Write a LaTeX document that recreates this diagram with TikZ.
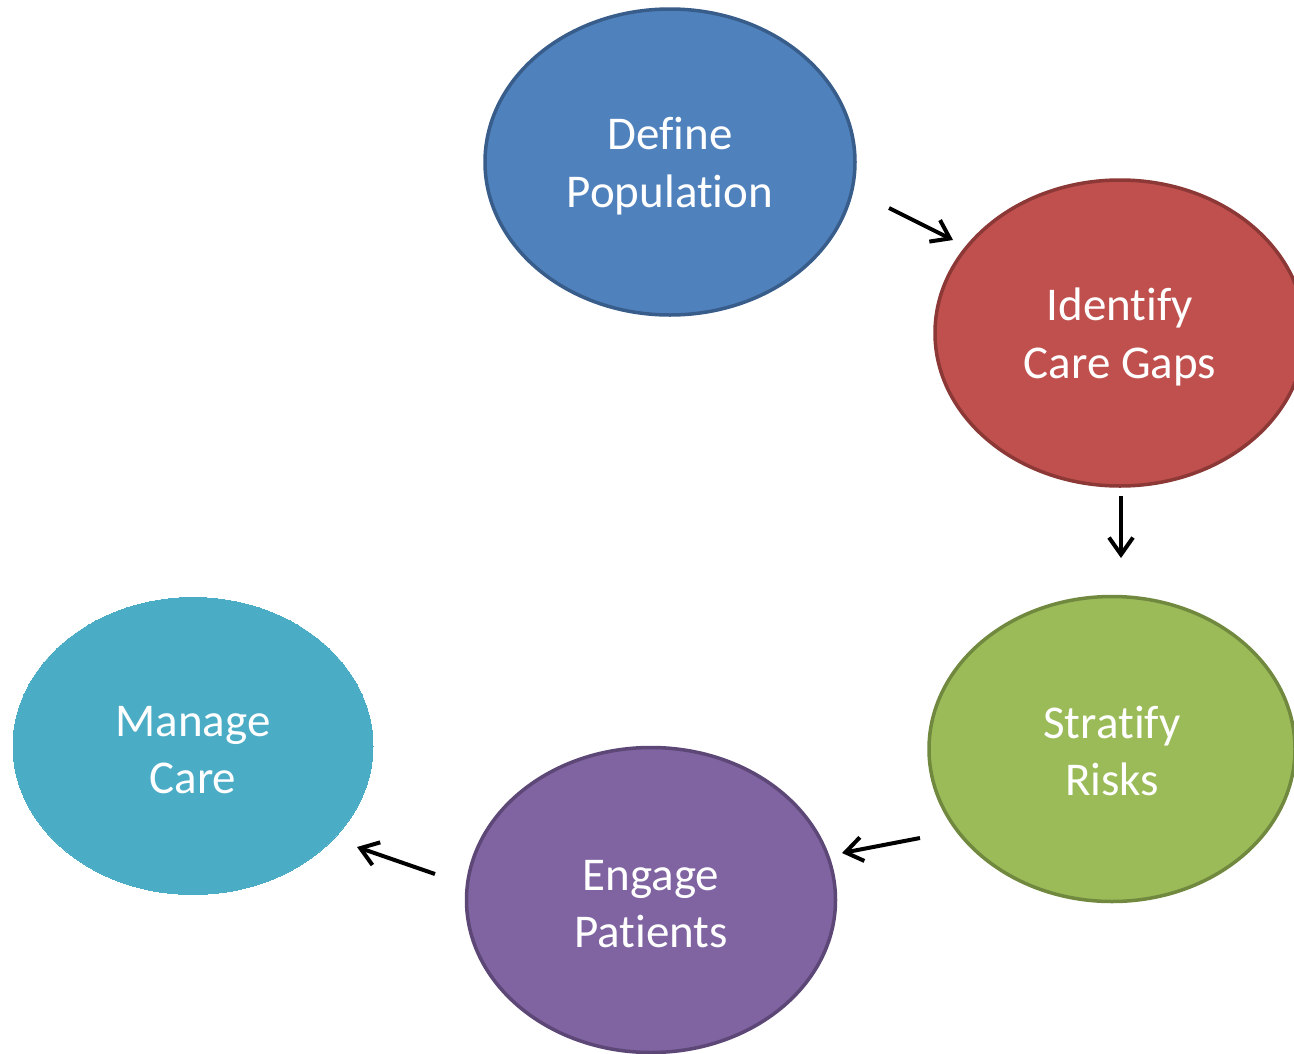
\documentclass[tikz,border=0pt]{standalone}
\usepackage{fontspec}
\setmainfont{Carlito}[Ligatures=NoCommon]
\usetikzlibrary{shapes.geometric,arrows.meta}
\definecolor{cblue}{HTML}{4F81BD}\definecolor{cblueD}{HTML}{385D8A}
\definecolor{cred}{HTML}{C0504D}\definecolor{credD}{HTML}{8C3836}
\definecolor{cgreen}{HTML}{9BBB59}\definecolor{cgreenD}{HTML}{71893F}
\definecolor{cpurple}{HTML}{8064A2}\definecolor{cpurpleD}{HTML}{5C4776}
\definecolor{cteal}{HTML}{4BACC6}
\tikzset{
  stage/.style={ellipse, inner sep=0pt, line width=3.5pt},
  stagetext/.style={text=white, align=center, inner sep=0pt, yshift=-4pt,
    font=\fontsize{47}{57.5}\selectfont},
  flow/.style={line width=4pt, -{Straight Barb[length=17pt,width=24pt,line width=4pt]}}
}
\begin{document}
\begin{tikzpicture}[x=1pt,y=-1pt]
\path[use as bounding box, clip] (0,0) rectangle (1294,1053);
\fill[white] (0,0) rectangle (1294,1053);
\node[stage, fill=cblue, draw=cblueD, minimum width=370pt, minimum height=306pt,
  label={[stagetext]center:Define\\Population}] (def) at (670,162) {};
\node[stage, fill=cred, draw=credD, minimum width=370pt, minimum height=306pt,
  label={[stagetext]center:Identify\\Care Gaps}] (ide) at (1120,333) {};
\node[stage, fill=cgreen, draw=cgreenD, minimum width=366pt, minimum height=305pt,
  label={[stagetext,yshift=2pt]center:Stratify\\Risks}] (str) at (1112,749) {};
\node[stage, fill=cpurple, draw=cpurpleD, minimum width=369pt, minimum height=305pt,
  label={[stagetext]center:Engage\\Patients}] (eng) at (651,900) {};
\node[stage, fill=cteal, draw=cteal, line width=0pt, minimum width=360pt, minimum height=297pt,
  label={[stagetext]center:Manage\\Care}] (man) at (193,746) {};
\coordinate (a1s) at (889,208); \coordinate (a1e) at (953,240);
\coordinate (a2s) at (1121,496); \coordinate (a2e) at (1121,558);
\coordinate (a3s) at (920,838); \coordinate (a3e) at (842,853);
\coordinate (a4s) at (435,874); \coordinate (a4e) at (357,847);
\draw[flow] (a1s) -- (a1e);
\draw[flow] (a2s) -- (a2e);
\draw[flow] (a3s) -- (a3e);
\draw[flow] (a4s) -- (a4e);
\end{tikzpicture}
\end{document}
